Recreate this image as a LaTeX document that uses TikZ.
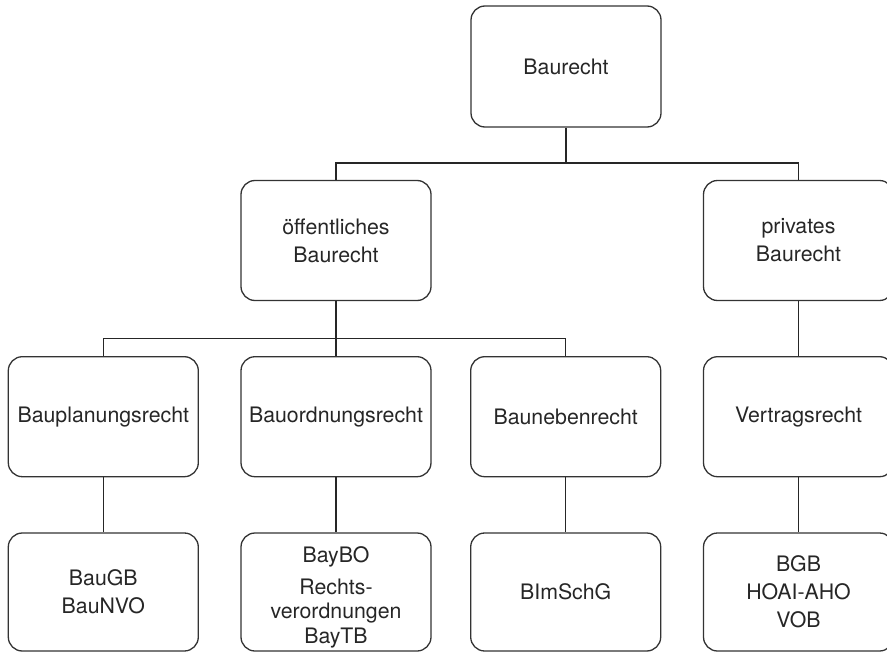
\documentclass[tikz,border=0pt]{standalone}
\usepackage{fontspec}
\setmainfont{TeX Gyre Heros}
\begin{document}
\begin{tikzpicture}[x=1bp,y=-1bp,
  box/.style={draw=black!80, line width=1.3bp, rounded corners=14bp,
    minimum width=190bp, minimum height=120bp, inner sep=0pt, align=center,
    font=\fontsize{21.3bp}{28bp}\selectfont, text=black!85},
  txt/.style={inner sep=0pt, align=center,
    font=\fontsize{21.3bp}{28bp}\selectfont, text=black!85},
  conn/.style={draw=black!85, line width=1.4bp}]
\useasboundingbox (0,0) rectangle (887,653);
% level 1
\node[box, minimum height=121bp] (root) at (566,66.5) {Baurecht};
% level 2
\node[box] (oeff) at (336,240.5) {öffentliches\\Baurecht};
\node[box] (priv) at (798.5,240.5) {privates\\Baurecht};
% level 3
\node[box] (n31) at (103.3,416.7) {Bauplanungsrecht};
\node[box] (n32) at (336,416.7) {Bauordnungsrecht};
\node[box] (n33) at (565.7,416.7) {Baunebenrecht};
\node[box] (n34) at (798.5,416.7) {Vertragsrecht};
% level 4
\node[box, minimum height=118bp] (n41) at (103.3,592) {BauGB\\BauNVO};
\node[box, minimum height=118bp] (n42) at (336,592) {};
\node[txt] (t42) at (336,597) {BayBO\\[4bp]Rechts-\\[-4bp]verordnungen\\[-3bp]BayTB};
\node[box, minimum height=118bp] (n43) at (565.7,592) {BImSchG};
\node[box, minimum height=118bp] (n44) at (798.5,592) {BGB\\HOAI-AHO\\VOB};
% buses
\coordinate (bus1) at (566,163);
\coordinate (bus2) at (336,338.3);
% connectors
\draw[conn] (root.south) -- (bus1);
\draw[conn] (oeff.north) |- (bus1);
\draw[conn] (priv.north) |- (bus1);
\draw[conn] (oeff.south) -- (n32.north);
\draw[conn] (n31.north) |- (bus2);
\draw[conn] (n33.north) |- (bus2);
\draw[conn] (priv.south) -- (n34.north);
\draw[conn] (n31.south) -- (n41.north);
\draw[conn] (n32.south) -- (n42.north);
\draw[conn] (n33.south) -- (n43.north);
\draw[conn] (n34.south) -- (n44.north);
\end{tikzpicture}
\end{document}
